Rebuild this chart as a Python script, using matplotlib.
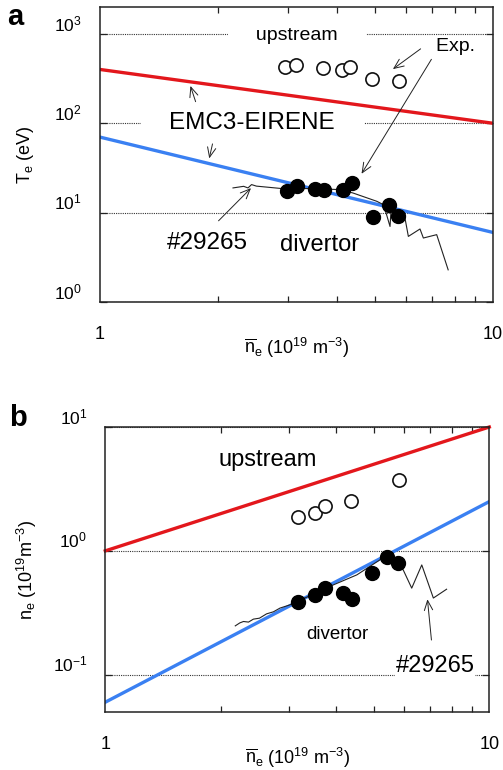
import matplotlib
matplotlib.use("Agg")
import matplotlib.pyplot as plt
import numpy as np
from matplotlib.ticker import FixedLocator, NullFormatter, NullLocator

plt.rcParams['font.family'] = ['Liberation Sans', 'DejaVu Sans']
plt.rcParams['mathtext.fontset'] = 'custom'
plt.rcParams['mathtext.rm'] = 'Liberation Sans'
plt.rcParams['mathtext.it'] = 'Liberation Sans:italic'
plt.rcParams['mathtext.bf'] = 'Liberation Sans:bold'

# ---------------- data ----------------
ne_model = [1, 10]
te_up_model = [400, 100]
te_div_model = [70, 6]
nu_up_model = [1.0, 10.0]
nu_div_model = [0.06, 2.5]

te_up_x = [2.96, 3.15, 3.69, 4.13, 4.33, 4.92, 5.77]
te_up_y = [430, 449, 412, 394, 430, 312, 299]
te_div_x = [2.99, 3.17, 3.52, 3.71, 4.16, 4.37, 4.94, 5.45, 5.74]
te_div_y = [17.3, 20.1, 18.5, 17.8, 18.1, 21.2, 8.95, 12.3, 9.1]

nu_up_x = [3.17, 3.52, 3.73, 4.36, 5.83]
nu_up_y = [1.87, 2.04, 2.31, 2.55, 3.74]
nu_div_x = [3.17, 3.52, 3.73, 4.17, 4.38, 4.94, 5.42, 5.80]
nu_div_y = [0.39, 0.44, 0.50, 0.461, 0.408, 0.66, 0.89, 0.80]

trace_te_x = [2.18, 2.32, 2.38, 2.43, 2.50, 2.90, 3.42, 4.08, 4.40, 5.06, 5.26,
              5.36, 5.47, 5.50, 5.97, 6.09, 6.52, 6.65, 7.19, 7.69]
trace_te_y = [18.9, 19.7, 18.9, 20.6, 19.8, 18.6, 18.6, 18.1, 16.6, 13.4, 12.3,
              9.5, 7.0, 10.3, 8.7, 5.42, 6.56, 5.2, 5.67, 2.29]

trace_ne_x = [2.18, 2.24, 2.29, 2.36, 2.43, 2.52, 2.63, 2.74, 2.85, 3.03, 3.93,
              4.52, 5.19, 5.40, 5.97, 6.28, 6.67, 7.15, 7.74]
trace_ne_y = [0.248, 0.262, 0.269, 0.266, 0.281, 0.286, 0.31, 0.322, 0.345, 0.367,
              0.532, 0.64, 0.846, 0.99, 0.70, 0.50, 0.77, 0.416, 0.49]

xticks_major = [1, 10]
xtick_labels = ['1', '10']
te_yticks = [1, 10, 100, 1000]
te_ylabels = [r'$10^{0}$', r'$10^{1}$', r'$10^{2}$', r'$10^{3}$']
ne_yticks = [0.1, 1, 10]
ne_ylabels = [r'$10^{-1}$', r'$10^{0}$', r'$10^{1}$']

RED = '#e3171c'
BLUE = '#3a80f2'

fig = plt.figure(figsize=(5.03, 7.7), dpi=100)
ax1 = fig.add_axes([100/503, 1-302/770, 393/503, 295/770])
ax2 = fig.add_axes([105.3/503, 1-712/770, 384/503, 285/770])

def style(ax, yticks, ylabels, ylim):
    ax.set_xscale('log')
    ax.set_yscale('log')
    ax.set_xlim(1, 10)
    ax.set_ylim(*ylim)
    ax.xaxis.set_major_locator(FixedLocator(xticks_major))
    ax.set_xticklabels(xtick_labels)
    ax.xaxis.set_minor_locator(FixedLocator([2, 3, 4, 5, 6, 7, 8, 9]))
    ax.xaxis.set_minor_formatter(NullFormatter())
    ax.yaxis.set_major_locator(FixedLocator(yticks))
    ax.set_yticklabels(ylabels)
    ax.yaxis.set_minor_locator(NullLocator())
    ax.tick_params(which='both', direction='in', top=True, right=True,
                   color='#222222', width=0.9)
    ax.tick_params(axis='x', which='major', length=0, pad=17, labelsize=13)
    ax.tick_params(axis='x', which='minor', length=4)
    ax.tick_params(axis='y', which='major', length=5, pad=13, labelsize=12.5)
    plt.setp(ax.get_yticklabels(), va='bottom')
    for s in ax.spines.values():
        s.set_linewidth(1.1)
        s.set_color('#222222')
    for v in yticks:
        ax.axhline(v, color='#333333', lw=0.8, ls=(0, (1, 1)), zorder=1)

# ---------------- panel a ----------------
style(ax1, te_yticks, te_ylabels, (1, 2000))
ax1.plot(ne_model, te_up_model, color=RED, lw=2.4, zorder=2.2)
ax1.plot(ne_model, te_div_model, color=BLUE, lw=2.4, zorder=2.2)
ax1.plot(trace_te_x, trace_te_y, color='#222222', lw=0.8, zorder=2.5)
ax1.plot(te_up_x, te_up_y, 'o', ms=9.5, mfc='white', mec='#111111', mew=1.2, zorder=3)
ax1.plot(te_div_x, te_div_y, 'o', ms=10, mfc='black', mec='black', zorder=3)

tb = dict(facecolor='white', edgecolor='none', pad=1)
ax1.text(3.17, 950, '     upstream     ', fontsize=14, ha='center', va='center',
         bbox=tb, zorder=2)
ax1.text(7.15, 720, 'Exp.   ', fontsize=14, ha='left', va='center', bbox=tb,
         zorder=2)
ax1.text(2.44, 100, '    EMC3-EIRENE    ', fontsize=17.5, ha='center', va='center',
         bbox=tb, zorder=2)
ax1.text(1.88, 4.6, '#29265', fontsize=17.5, ha='center', va='center')
ax1.text(3.63, 4.37, 'divertor', fontsize=17, ha='center', va='center')

ap = dict(arrowstyle='->,head_length=0.7,head_width=0.3', color='#222222', lw=0.7)
for tail, head in [((1.76, 163), (1.69, 280)),
                   ((1.94, 63), (1.89, 37.7)),
                   ((6.63, 710), (5.49, 387)),
                   ((7.03, 552), (4.59, 25.6)),
                   ((1.98, 7.7), (2.45, 19.8))]:
    ax1.annotate('', xy=head, xytext=tail, arrowprops=ap, zorder=4)

ax1.set_ylabel(r'T$_\mathrm{e}$ (eV)', fontsize=13, labelpad=13)
ax1.set_xlabel(r'$\overline{\mathrm{n}}_\mathrm{e}$ (10$^{19}$ m$^{-3}$)', fontsize=13,
               labelpad=-5)

# ---------------- panel b ----------------
style(ax2, ne_yticks, ne_ylabels, (0.05, 10))
ax2.plot(ne_model, nu_up_model, color=RED, lw=2.4, zorder=2.2, clip_on=False)
ax2.plot(ne_model, nu_div_model, color=BLUE, lw=2.4, zorder=2.2)
ax2.plot(trace_ne_x, trace_ne_y, color='#222222', lw=0.8, zorder=2.5)
ax2.plot(nu_up_x, nu_up_y, 'o', ms=9.5, mfc='white', mec='#111111', mew=1.2, zorder=3)
ax2.plot(nu_div_x, nu_div_y, 'o', ms=10, mfc='black', mec='black', zorder=3)

ax2.text(2.64, 5.42, 'upstream', fontsize=17, ha='center', va='center')
ax2.text(4.01, 0.21, 'divertor', fontsize=13.5, ha='center', va='center')
ax2.text(7.22, 0.118, '#29265', fontsize=17, ha='center', va='center',
         bbox=dict(facecolor='white', edgecolor='none', pad=0.5), zorder=2)
ax2.annotate('', xy=(6.89, 0.428), xytext=(7.08, 0.181), arrowprops=ap, zorder=4)

ax2.set_ylabel(r'n$_\mathrm{e}$ (10$^{19}$m$^{-3}$)', fontsize=13, labelpad=10)
ax2.set_xlabel(r'$\overline{\mathrm{n}}_\mathrm{e}$ (10$^{19}$ m$^{-3}$)', fontsize=13,
               labelpad=-5)

fig.text(15/503, 1-17/770, 'a', fontsize=21, fontweight='bold', ha='center', va='center')
fig.text(18/503, 1-418/770, 'b', fontsize=21, fontweight='bold', ha='center', va='center')

fig.savefig('out.png', dpi=100)
